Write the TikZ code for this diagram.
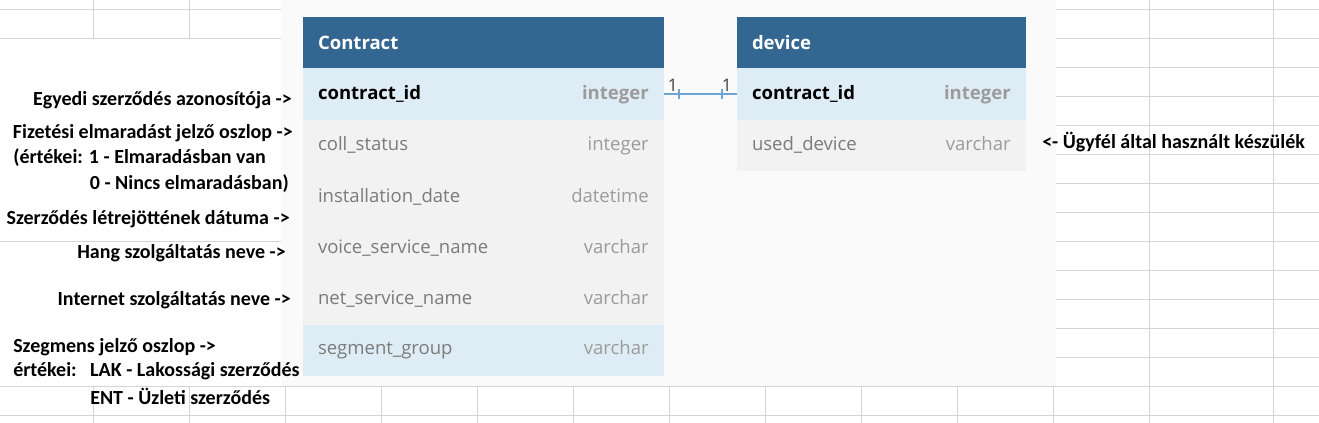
\documentclass[tikz,border=0pt]{standalone}
\usepackage{fontspec}
\setmainfont{Carlito}
\newfontfamily\erfamily{Open Sans}
\usetikzlibrary{positioning,calc,decorations.markings}
\definecolor{gridgray}{HTML}{D4D4D4}
\definecolor{panelgray}{HTML}{FAFAFA}
\definecolor{headblue}{HTML}{336791}
\definecolor{keyblue}{HTML}{DEEDF5}
\definecolor{rowgray}{HTML}{F2F2F2}
\definecolor{namegray}{HTML}{7B7B7B}
\definecolor{typegray}{HTML}{9B9B9B}
\definecolor{linkblue}{HTML}{6BA4D6}
\newcommand\erfont{\erfamily\fontsize{13.9pt}{16pt}\selectfont}
\tikzset{
  gridline/.style={draw=gridgray,line width=.8pt},
  field/.style={anchor=north west,inner xsep=11.25pt,inner ysep=0pt,outer sep=0pt,minimum height=38.5pt,
                align=left,font=\erfont,text=namegray,fill=rowgray},
  head/.style={field,fill=headblue,text=white,font=\erfont\bfseries},
  keyfield/.style={field,fill=keyblue,text=black,font=\erfont\bfseries},
  type/.style={anchor=base east,inner sep=0pt,font=\erfont,text=typegray},
  keytype/.style={type,font=\erfont\bfseries},
  link/.style={draw=linkblue,line width=1.9pt,
    postaction={decorate,decoration={markings,
      mark=at position 11pt with {\draw[linkblue,line width=1.5pt] (0,-5)--(0,5);},
      mark=at position -11pt with {\draw[linkblue,line width=1.5pt] (0,-5)--(0,5);}}}},
  card/.style={font=\erfamily\fontsize{13pt}{15pt}\selectfont,text=black!75,inner sep=1pt},
  note/.style={inner sep=0pt,font=\fontsize{15pt}{18pt}\selectfont\bfseries}
}
\begin{document}
\begin{tikzpicture}[x=.75pt,y=-.75pt]
  \useasboundingbox (0,0) rectangle (1319,423);
  \fill[white] (0,0) rectangle (1319,423);
  % spreadsheet grid
  \foreach \y in {9.3,38.3,...,415.3} \draw[gridline] (1056,\y) -- (1319,\y);
  \foreach \x in {93.4,189.4,...,1053.4} \draw[gridline] (\x,386.3) -- (\x,423);
  \draw[gridline] (0,9.3) -- (281,9.3) (0,38.3) -- (281,38.3) (93.4,0) -- (93.4,38.3) (189.4,0) -- (189.4,38.3);
  \draw[gridline] (0,241.3) -- (281,241.3) (0,386.3) -- (1056,386.3) (0,415.3) -- (1056,415.3);
  \draw[gridline] (1149.4,0) -- (1149.4,423) (1273.7,0) -- (1273.7,423);
  % diagram panel
  \fill[panelgray] (281,0) rectangle (1056,386.5);
  % Contract table
  \node[head,text width=248.25pt] (ctr) at (303,17) {Contract};
  \node[keyfield,text width=248.25pt,below=0pt of ctr] (ctr-id) {contract\_id};
  \node[field,text width=248.25pt,below=0pt of ctr-id] (ctr-coll) {coll\_status};
  \node[field,text width=248.25pt,below=0pt of ctr-coll] (ctr-inst) {installation\_date};
  \node[field,text width=248.25pt,below=0pt of ctr-inst] (ctr-voice) {voice\_service\_name};
  \node[field,text width=248.25pt,below=0pt of ctr-voice] (ctr-net) {net\_service\_name};
  \node[field,text width=248.25pt,fill=keyblue,below=0pt of ctr-net] (ctr-seg) {segment\_group};
  \node[keytype] at ($(ctr-id.base east)+(-15,0)$) {integer};
  \node[type] at ($(ctr-coll.base east)+(-15,0)$) {integer};
  \node[type] at ($(ctr-inst.base east)+(-15,0)$) {datetime};
  \node[type] at ($(ctr-voice.base east)+(-15,0)$) {varchar};
  \node[type] at ($(ctr-net.base east)+(-15,0)$) {varchar};
  \node[type] at ($(ctr-seg.base east)+(-15,0)$) {varchar};
  % device table
  \node[head,text width=194.25pt] (dev) at (737,17) {device};
  \node[keyfield,text width=194.25pt,below=0pt of dev] (dev-id) {contract\_id};
  \node[field,text width=194.25pt,below=0pt of dev-id] (dev-used) {used\_device};
  \node[keytype] at ($(dev-id.base east)+(-15,0)$) {integer};
  \node[type] at ($(dev-used.base east)+(-15,0)$) {varchar};
  % relation
  \draw[link] (ctr-id.east) -- node[card,above,pos=.12]{1} node[card,above,pos=.86]{1} (dev-id.west);
  % notes
  \node[note,anchor=east] (n-id) at (292,100) {Egyedi szerződés azonosítója ->};
  \node[note,anchor=east] (n-coll) at (293,133) {Fizetési elmaradást jelző oszlop ->};
  \node[note,anchor=west] (n-coll1) at (13,158) {(értékei: 1 - Elmaradásban van};
  \node[note,anchor=east] (n-coll0) at (289,184) {0 - Nincs elmaradásban)};
  \node[note,anchor=east] (n-inst) at (290,219) {Szerződés létrejöttének dátuma ->};
  \node[note,anchor=east] (n-voice) at (286,253) {Hang szolgáltatás neve ->};
  \node[note,anchor=east] (n-net) at (291,300) {Internet szolgáltatás neve ->};
  \node[note,anchor=west] (n-seg) at (13,347) {Szegmens jelző oszlop ->};
  \node[note,anchor=west] (n-lak) at (13,371) {\makebox[57.75pt][l]{értékei:}LAK - Lakossági szerződés};
  \node[note,anchor=west] (n-ent) at (90,396) {ENT - Üzleti szerződés};
  \node[note,anchor=west] (n-used) at (1042,142) {<- Ügyfél által használt készülék};
\end{tikzpicture}
\end{document}
